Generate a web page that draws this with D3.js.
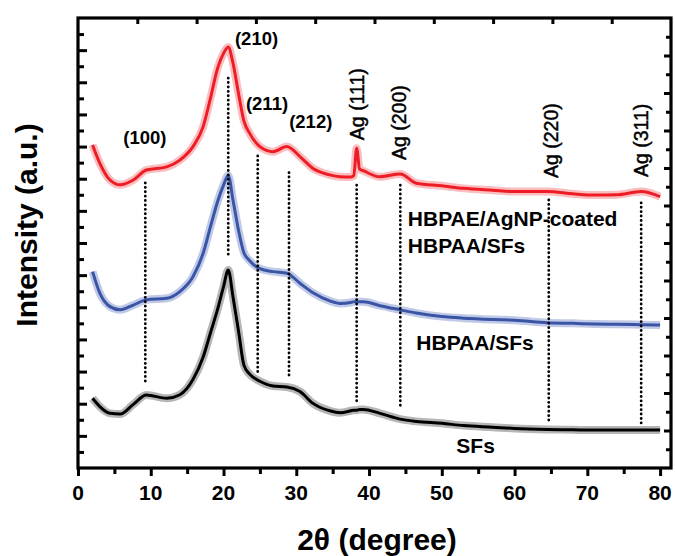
<!DOCTYPE html>
<html lang="en">
<head>
    <meta charset="UTF-8">
    <title>XRD patterns</title>
    <script src="https://d3js.org/d3.v7.min.js"></script>
    <style>
        body {
            margin: 0;
            padding: 0;
            background: #fff;
            font-family: 'Liberation Sans', Arial, sans-serif;
        }
        svg text {
            font-family: 'Liberation Sans', Arial, sans-serif;
        }
    </style>
</head>
<body>
    <svg id="chart"></svg>

    <script>
        // 2θ positions shared by the three patterns
        const angles = [2, 3, 4.4, 5.8, 7.6, 9.4, 12.2, 14, 15.8, 17.2, 18.2, 19.2, 20, 20.65, 21.3,
            22.1, 22.8, 23.6, 25, 26.8, 28.7, 30.5, 32.3, 34.6, 36, 37.5, 37.9, 38.3, 38.7, 39.2,
            41.5, 44.3, 46.5, 50, 53, 57, 60, 64.5, 68, 71, 74, 77.4, 80];

        // intensities (arbitrary units, offset stacked as in the figure)
        const coated = [10.05, 9.48, 8.96, 8.81, 8.96, 9.27, 9.37, 9.58, 10.0, 10.62, 11.5, 12.45, 12.9, 13.1, 12.6,
            11.6, 10.8, 10.41, 10.0, 9.84, 10.0, 9.69, 9.32, 9.12, 9.06, 9.05, 9.1, 9.95, 9.3, 9.25,
            9.06, 9.15, 8.86, 8.78, 8.70, 8.64, 8.6, 8.6, 8.53, 8.49, 8.5, 8.6, 8.44];
        const hbpaa = [6.11, 5.44, 5.02, 4.92, 5.07, 5.23, 5.28, 5.49, 5.95, 6.68, 7.5, 8.3, 8.8, 9.1, 8.34,
            7.35, 6.7, 6.45, 6.2, 6.11, 6.06, 5.75, 5.45, 5.2, 5.12, 5.15, 5.17, 5.17, 5.17, 5.17,
            5.05, 4.92, 4.82, 4.71, 4.66, 4.62, 4.6, 4.52, 4.5, 4.48, 4.47, 4.46, 4.45];
        const sfs = [2.17, 1.91, 1.70, 1.68, 1.98, 2.27, 2.17, 2.28, 2.75, 3.45, 4.2, 4.95, 5.64, 6.16, 5.33,
            4.2, 3.2, 2.92, 2.7, 2.55, 2.52, 2.38, 2.01, 1.78, 1.72, 1.78, 1.8, 1.8, 1.82, 1.82,
            1.7, 1.52, 1.45, 1.39, 1.32, 1.27, 1.23, 1.2, 1.19, 1.18, 1.18, 1.18, 1.18];

        // dotted reference lines: 2θ, top and bottom intensity
        const refAngles = [9.25, 20.65, 24.7, 29.0, 38.3, 44.3, 64.7, 77.4];
        const refTop = [8.87, 12.13, 9.71, 9.19, 8.8, 8.8, 8.34, 8.25];
        const refBottom = [2.68, 6.53, 2.99, 2.83, 1.96, 1.9, 1.43, 1.28];

        // plane labels
        const planeLabels = ["(100)", "(210)", "(211)", "(212)"];
        const planeAngles = [6.22, 21.57, 23.08, 29.02];
        const planeLevels = [10.08, 13.16, 11.14, 10.57];

        const agLabels = ["Ag (111)", "Ag (200)", "Ag (220)", "Ag (311)"];
        const agAngles = [39.29, 45.05, 65.93, 78.3];
        const agLevels = [10.2, 9.58, 9.02, 9.05];

        // sample names
        const sampleLabels = ["HBPAE/AgNP-coated", "HBPAA/SFs", "HBPAA/SFs", "SFs"];
        const sampleAngles = [45.33, 45.33, 46.5, 52.0];
        const sampleLevels = [7.53, 6.69, 3.67, 0.47];

        const xTicks = [0, 10, 20, 30, 40, 50, 60, 70, 80];

        const width = 675, height = 556;
        const plot = { left: 78, right: 671, top: 18, bottom: 468 };

        const svg = d3.select("#chart")
            .attr("width", width)
            .attr("height", height);

        const x = d3.scaleLinear().domain([0, 81.5]).range([plot.left, plot.right]);
        const y = d3.scaleLinear().domain([0, 14]).range([plot.bottom, plot.top]);
        // the top and right frame ticks follow their own spacing in the original
        const xTop = d3.scaleLinear().domain([0, 10]).range([plot.left, plot.right]);
        const yRight = d3.scaleLinear().domain([0, 12]).range([plot.bottom, plot.top]);

        // Patterns
        const series = [
            { values: coated, color: "#ee1c25", haze: "#f7888d" },
            { values: hbpaa, color: "#3a54a6", haze: "#8d9fd4" },
            { values: sfs, color: "#000000", haze: "#7a7a7a" }
        ];

        const line = d3.line()
            .x(d => x(d[0]))
            .y(d => y(d[1]))
            .curve(d3.curveMonotoneX);

        series.forEach(s => {
            const pts = angles.map((a, i) => [a, s.values[i]]);
            svg.append("path")
                .attr("d", line(pts))
                .attr("fill", "none")
                .attr("stroke", s.haze)
                .attr("stroke-width", 8)
                .attr("stroke-opacity", 0.55)
                .attr("stroke-linejoin", "round");
            svg.append("path")
                .attr("d", line(pts))
                .attr("fill", "none")
                .attr("stroke", s.color)
                .attr("stroke-width", 3)
                .attr("stroke-linejoin", "round");
        });

        // Dotted lines
        svg.selectAll(".ref")
            .data(refAngles)
            .enter()
            .append("line")
            .attr("class", "ref")
            .attr("x1", d => x(d))
            .attr("x2", d => x(d))
            .attr("y1", (d, i) => y(refTop[i]))
            .attr("y2", (d, i) => y(refBottom[i]))
            .attr("stroke", "#000")
            .attr("stroke-width", 2.8)
            .attr("stroke-linecap", "round")
            .attr("stroke-dasharray", "0.1,4.3");

        // Frame
        svg.append("rect")
            .attr("x", plot.left)
            .attr("y", plot.top)
            .attr("width", plot.right - plot.left)
            .attr("height", plot.bottom - plot.top)
            .attr("fill", "none")
            .attr("stroke", "#000")
            .attr("stroke-width", 3.2);

        // Bottom axis: outward ticks, labels
        const bottomAxis = svg.append("g")
            .attr("transform", `translate(0,${plot.bottom})`)
            .call(d3.axisBottom(x).tickValues(d3.range(0, 81, 5)).tickSize(0).tickFormat(""));
        bottomAxis.select(".domain").remove();
        bottomAxis.selectAll(".tick line")
            .attr("y2", d => d % 10 === 0 ? 8 : 6)
            .attr("stroke", "#000")
            .attr("stroke-width", 3);

        svg.selectAll(".xlabel")
            .data(xTicks)
            .enter()
            .append("text")
            .attr("class", "xlabel")
            .attr("x", d => x(d))
            .attr("y", 500)
            .attr("text-anchor", "middle")
            .attr("font-size", 21)
            .attr("font-weight", "bold")
            .text(d => d);

        // Left axis: inward ticks
        const leftAxis = svg.append("g")
            .attr("transform", `translate(${plot.left},0)`)
            .call(d3.axisRight(y).tickValues(d3.range(0.5, 14, 0.5)).tickSize(0).tickFormat(""));
        leftAxis.select(".domain").remove();
        leftAxis.selectAll(".tick line")
            .attr("x2", d => d % 1 === 0 ? 9 : 6)
            .attr("stroke", "#000")
            .attr("stroke-width", 3);

        // Top axis: inward ticks
        const topAxis = svg.append("g")
            .attr("transform", `translate(0,${plot.top})`)
            .call(d3.axisBottom(xTop).tickValues(d3.range(1, 10)).tickSize(0).tickFormat(""));
        topAxis.select(".domain").remove();
        topAxis.selectAll(".tick line")
            .attr("y2", 6)
            .attr("stroke", "#000")
            .attr("stroke-width", 3);

        // Right axis: inward ticks
        const rightAxis = svg.append("g")
            .attr("transform", `translate(${plot.right},0)`)
            .call(d3.axisLeft(yRight).tickValues(d3.range(0.5, 12, 0.5)).tickSize(0).tickFormat(""));
        rightAxis.select(".domain").remove();
        rightAxis.selectAll(".tick line")
            .attr("x2", d => d % 1 === 0 ? -7 : -5)
            .attr("stroke", "#000")
            .attr("stroke-width", 3);

        // Plane labels
        svg.selectAll(".plane")
            .data(planeLabels)
            .enter()
            .append("text")
            .attr("class", "plane")
            .attr("x", (d, i) => x(planeAngles[i]))
            .attr("y", (d, i) => y(planeLevels[i]))
            .attr("font-size", 18.5)
            .attr("font-weight", "bold")
            .text(d => d);

        // Ag labels, rotated
        svg.selectAll(".ag")
            .data(agLabels)
            .enter()
            .append("text")
            .attr("class", "ag")
            .attr("transform", (d, i) => `translate(${x(agAngles[i])},${y(agLevels[i])}) rotate(-90)`)
            .attr("font-size", 19.5)
            .attr("stroke", "#000")
            .attr("stroke-width", 0.45)
            .text(d => d);

        // Sample names
        svg.selectAll(".sample")
            .data(sampleLabels)
            .enter()
            .append("text")
            .attr("class", "sample")
            .attr("x", (d, i) => x(sampleAngles[i]))
            .attr("y", (d, i) => y(sampleLevels[i]))
            .attr("font-size", 21)
            .attr("font-weight", "bold")
            .text(d => d);

        // Axis titles
        svg.append("text")
            .attr("x", 377)
            .attr("y", 550)
            .attr("text-anchor", "middle")
            .attr("font-size", 30)
            .attr("font-weight", "bold")
            .text("2θ (degree)");

        svg.append("text")
            .attr("transform", "translate(37,225) rotate(-90)")
            .attr("text-anchor", "middle")
            .attr("font-size", 30)
            .attr("font-weight", "bold")
            .text("Intensity (a.u.)");
    </script>
</body>
</html>
